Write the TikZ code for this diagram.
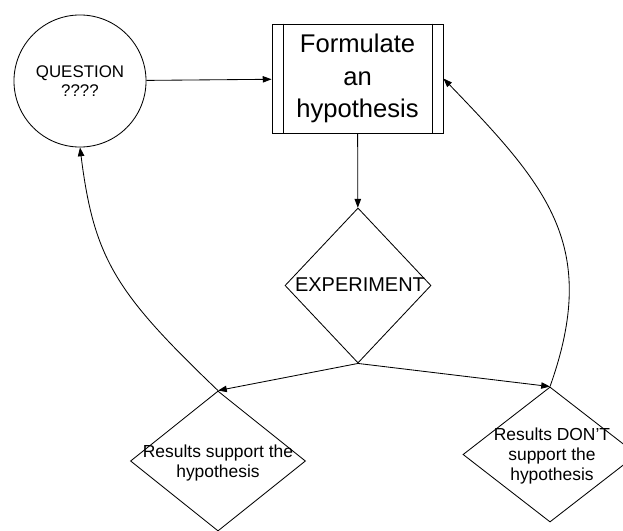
\documentclass[tikz,border=0pt]{standalone}
\usepackage{fontspec}
\setmainfont{Liberation Sans}
\usetikzlibrary{shapes.geometric, arrows.meta}

\begin{document}
\begin{tikzpicture}[x=0.025cm, y=0.025cm, line width=0.6pt,
    arr/.style={-{Triangle[length=2.2mm, width=1.6mm]}},
    decision/.style={draw, shape=diamond, inner sep=0pt},
    lbl/.style={align=center, inner sep=0pt}]
    \useasboundingbox (0,0) rectangle (623,-531);

    % question and hypothesis
    \node[draw, circle, minimum size=3.3cm, inner sep=0pt, align=center,
          font=\fontsize{12}{13.5}\selectfont] (question) at (80,-81) {QUESTION\\????};
    \node[draw, minimum width=4.275cm, minimum height=2.725cm, inner sep=0pt, align=center,
          font=\fontsize{18.2}{23}\selectfont] (hypo) at (357.5,-78.5) {Formulate\\an\\hypothesis};
    \draw ([xshift=0.3cm]hypo.north west) -- ([xshift=0.3cm]hypo.south west);
    \draw ([xshift=-0.275cm]hypo.north east) -- ([xshift=-0.275cm]hypo.south east);

    % decisions
    \node[decision, minimum width=3.65cm, minimum height=3.875cm] (exper) at (358,-285.5) {};
    \node[lbl, font=\fontsize{14.2}{16}\selectfont] (expertxt) at (360,-285) {EXPERIMENT};
    \node[decision, minimum width=4.375cm, minimum height=3.5cm] (yes) at (218,-461) {};
    \node[lbl, font=\fontsize{12.4}{14}\selectfont] (yestxt) at (218,-463) {Results support the\\hypothesis};
    \node[decision, minimum width=4.35cm, minimum height=3.375cm] (no) at (550,-454.5) {};
    \node[lbl, font=\fontsize{12.4}{14.5}\selectfont] (notxt) at (552,-456) {Results DON'T\\support the\\hypothesis};

    % connectors
    \draw[arr] (question) -- (hypo);
    \draw[arr] (hypo) -- (exper);
    \draw[arr] (exper.south) -- (yes.north);
    \draw[arr] (exper.south) -- (no.north);
    \draw[arr] (yes.north) .. controls (116,-293) and (94,-259) .. (question.south);
    \draw[arr] (no.north) .. controls (600,-246) and (548,-187) .. (hypo.east);
\end{tikzpicture}
\end{document}
